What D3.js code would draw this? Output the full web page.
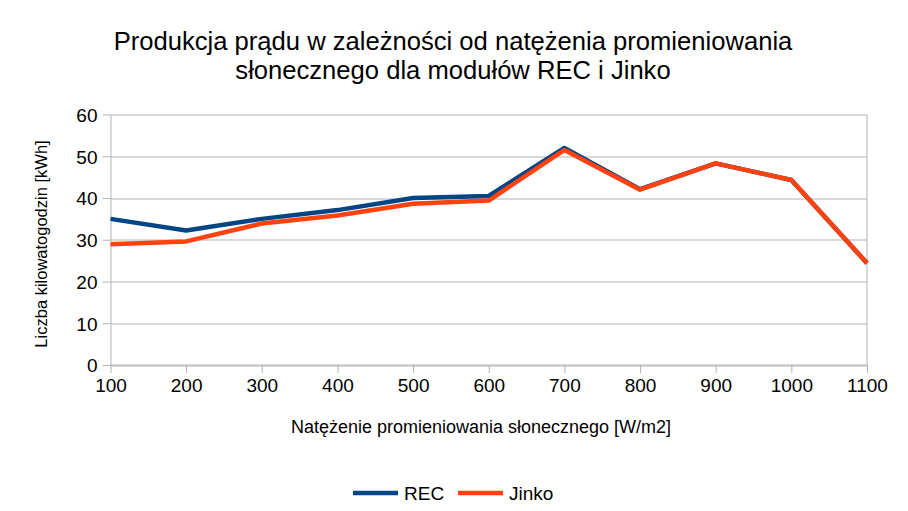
<!DOCTYPE html>
<html>
<head>
<meta charset="utf-8">
<script src="https://cdn.jsdelivr.net/npm/d3@7"></script>
<style>
  body { margin: 0; background: #fff; }
  svg { font-family: "Liberation Sans", Arial, sans-serif; }
  .grid line { stroke: #b3b3b3; stroke-width: 1; }
  .axis path, .axis line { stroke: #b3b3b3; }
  .axis text { fill: #000; font-size: 19px; }
</style>
</head>
<body>
<div id="chart"></div>
<script>
const irradiance = [100, 200, 300, 400, 500, 600, 700, 800, 900, 1000, 1100];
const rec = [35, 32.2, 35, 37.1, 40, 40.5, 52, 42.1, 48.3, 44.3, 24.4];
const jinko = [28.9, 29.6, 33.9, 35.8, 38.6, 39.4, 51.5, 42, 48.3, 44.3, 24.4];
const yTicks = [0, 10, 20, 30, 40, 50, 60];

const series = [
  { name: "REC", values: rec, color: "#004586" },
  { name: "Jinko", values: jinko, color: "#ff420e" }
];

const width = 908, height = 511;
const margin = { top: 114.5, right: 41, bottom: 146, left: 110.5 };
const innerW = width - margin.left - margin.right;
const innerH = height - margin.top - margin.bottom;

const svg = d3.select("#chart").append("svg").attr("width", width).attr("height", height);

const x = d3.scaleLinear().domain([100, 1100]).range([0, innerW]);
const y = d3.scaleLinear().domain([0, 60]).range([innerH, 0]);

const g = svg.append("g").attr("transform", `translate(${margin.left},${margin.top})`);

// horizontal grid
g.append("g").attr("class", "grid")
  .selectAll("line").data(yTicks).enter().append("line")
  .attr("x1", 0).attr("x2", innerW)
  .attr("y1", d => Math.round(y(d)) + 0.5).attr("y2", d => Math.round(y(d)) + 0.5);

// right border
g.append("line").attr("x1", innerW).attr("x2", innerW).attr("y1", 0).attr("y2", innerH)
  .attr("stroke", "#b3b3b3");

const xAxis = g.append("g").attr("class", "axis")
  .attr("transform", `translate(0,${innerH})`)
  .call(d3.axisBottom(x).tickValues(irradiance).tickFormat(d3.format("d"))
    .tickSize(8).tickPadding(6).tickSizeOuter(0));
xAxis.select(".domain").remove();
xAxis.append("line").attr("x1", 0).attr("x2", innerW).attr("stroke", "#b3b3b3");

const yAxis = g.append("g").attr("class", "axis")
  .call(d3.axisLeft(y).tickValues(yTicks).tickSize(8).tickPadding(5).tickSizeOuter(0));
yAxis.selectAll("text").attr("dy", "0.36em");

const line = d3.line().x((d, i) => x(irradiance[i])).y(d => y(d));

g.selectAll(".series").data(series).enter().append("path")
  .attr("class", "series")
  .attr("fill", "none")
  .attr("stroke", d => d.color)
  .attr("stroke-width", 4.5)
  .attr("stroke-linejoin", "round")
  .attr("d", d => line(d.values));

// title
const title = svg.append("text").attr("text-anchor", "middle").attr("font-size", "25.6px").attr("fill", "#000");
title.append("tspan").attr("x", 453).attr("y", 50).text("Produkcja prądu w zależności od natężenia promieniowania");
title.append("tspan").attr("x", 453).attr("y", 79).text("słonecznego dla modułów REC i Jinko");

// axis titles
svg.append("text")
  .attr("x", 481).attr("y", 433)
  .attr("text-anchor", "middle").attr("font-size", "18px")
  .text("Natężenie promieniowania słonecznego [W/m2]");

svg.append("text")
  .attr("transform", "rotate(-90)")
  .attr("x", -244).attr("y", 47)
  .attr("text-anchor", "middle").attr("font-size", "16.5px")
  .text("Liczba kilowatogodzin [kWh]");

// legend
const legend = svg.append("g");
const legendX = [353, 458];
series.forEach((s, i) => {
  legend.append("line")
    .attr("x1", legendX[i]).attr("x2", legendX[i] + 45)
    .attr("y1", 493).attr("y2", 493)
    .attr("stroke", s.color).attr("stroke-width", 4.5);
  legend.append("text")
    .attr("x", legendX[i] + 51).attr("y", 500)
    .attr("font-size", "19px")
    .text(s.name);
});
</script>
</body>
</html>
